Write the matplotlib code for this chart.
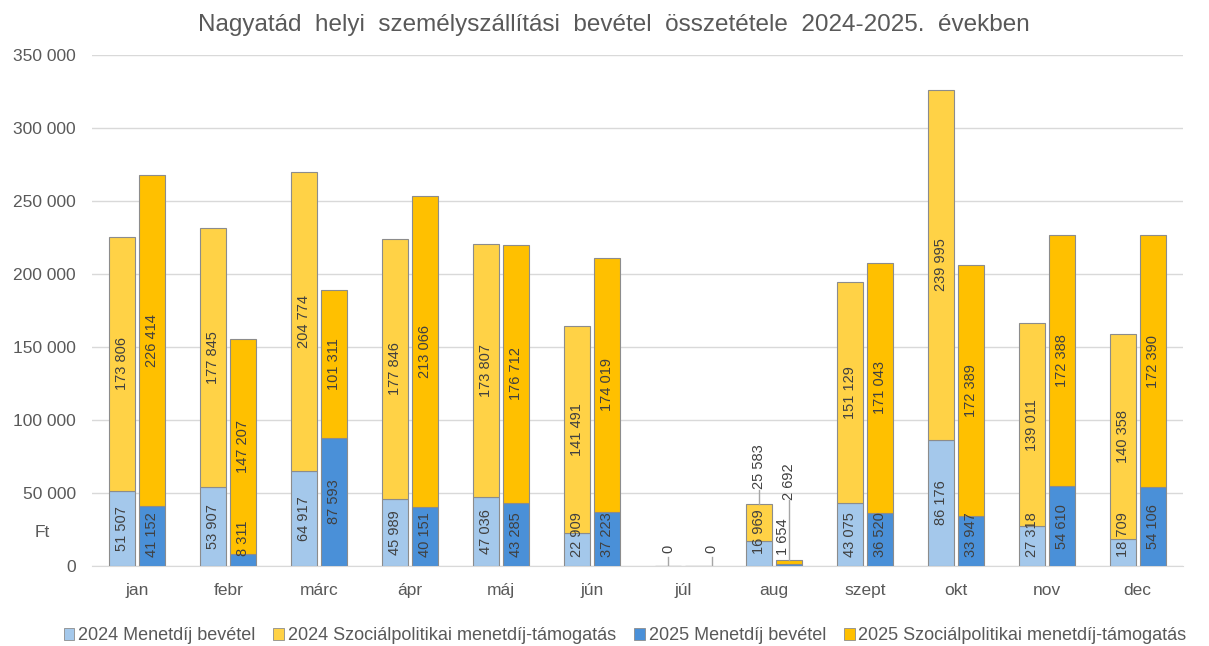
import numpy as np
import matplotlib.pyplot as plt
from matplotlib.patches import Patch

plt.rcParams['font.family'] = ['Liberation Sans', 'DejaVu Sans']

honapok = ["jan", "febr", "márc", "ápr", "máj", "jún", "júl", "aug", "szept", "okt", "nov", "dec"]
menet_2024 = [51507, 53907, 64917, 45989, 47036, 22909, 0, 16969, 43075, 86176, 27318, 18709]
szoc_2024 = [173806, 177845, 204774, 177846, 173807, 141491, 0, 25583, 151129, 239995, 139011, 140358]
menet_2025 = [41152, 8311, 87593, 40151, 43285, 37223, 0, 1654, 36520, 33947, 54610, 54106]
szoc_2025 = [226414, 147207, 101311, 213066, 176712, 174019, 0, 2692, 171043, 172389, 172388, 172390]

sorozat_nevek = ["2024 Menetdíj bevétel", "2024 Szociálpolitikai menetdíj-támogatás",
                 "2025 Menetdíj bevétel", "2025 Szociálpolitikai menetdíj-támogatás"]
cim = "Nagyatád helyi személyszállítási bevétel összetétele 2024-2025. években"
szinek = ["#A4C8EB", "#FFD246", "#4A90D8", "#FFC000"]
szurke = "#595959"

def fmt(v):
    return f"{v:,}".replace(",", " ")

fig = plt.figure(figsize=(12.09, 6.46), dpi=100)
ax = fig.add_axes([92/1209, 1-566/646, 1091/1209, 511/646])
px = 350000 / 511  # adat / pixel

x = np.arange(len(honapok))
w = 0.286
off = 0.165
ec = "#8C8C8C"
ax.bar(x-off, menet_2024, w, color=szinek[0], edgecolor=ec, linewidth=0.8, zorder=3)
ax.bar(x-off, szoc_2024, w, bottom=menet_2024, color=szinek[1], edgecolor=ec, linewidth=0.8, zorder=3)
ax.bar(x+off, menet_2025, w, color=szinek[2], edgecolor=ec, linewidth=0.8, zorder=3)
ax.bar(x+off, szoc_2025, w, bottom=menet_2025, color=szinek[3], edgecolor=ec, linewidth=0.8, zorder=3)

lbl = dict(rotation=90, ha="center", va="center", fontsize=10.5, color="#404040", zorder=5)
lead = dict(color="#A6A6A6", lw=1, zorder=4)
for i in range(len(honapok)):
    for xx, m, s in [(x[i]-off, menet_2024[i], szoc_2024[i]), (x[i]+off, menet_2025[i], szoc_2025[i])]:
        if m + s < 60000:
            continue
        t = fmt(m)
        # ha nem fer el, feljebb tolja (mint az Excel)
        yc = max(m/2, (len(t)*7.6/2 + 9) * px)
        ax.text(xx, yc, t, **lbl)
        ax.text(xx, m + s/2, fmt(s), **lbl)

# kis ertekek (jul, aug) vezetovonallal
i = honapok.index("júl")
for xx in [x[i]-off, x[i]+off+0.15]:
    ax.plot([xx, xx], [0, 9*px], **lead)
    ax.text(xx, 17*px, "0", **lbl)
i = honapok.index("aug")
top24 = menet_2024[i] + szoc_2024[i]
top25 = menet_2025[i] + szoc_2025[i]
ax.plot([x[i]-off, x[i]-off], [top24, 76*px], **lead)
ax.text(x[i]-off, 99.5*px, fmt(szoc_2024[i]), **lbl)
ax.text(x[i]-off, 34*px, fmt(menet_2024[i]), **lbl)
ax.plot([x[i]+off, x[i]+off], [top25, 66*px], **lead)
ax.text(x[i]+off, 84.5*px, fmt(szoc_2025[i]), **lbl)
ax.text(x[i]+off-0.065, 29.5*px, fmt(menet_2025[i]), **lbl)

ax.set_xlim(-0.5, len(honapok)-0.5)
ax.set_ylim(0, 350000)
ax.set_yticks(np.arange(0, 350001, 50000))
ax.set_yticklabels([fmt(v) for v in range(0, 350001, 50000)])
ax.set_xticks(x)
ax.set_xticklabels(honapok)
ax.tick_params(length=0, labelsize=12.5, colors=szurke)
ax.tick_params(axis="y", pad=11.5)
ax.tick_params(axis="x", pad=12)
ax.grid(axis="y", color="#D9D9D9", linewidth=1, zorder=0)
for sp in ["top", "right", "left"]:
    ax.spines[sp].set_visible(False)
ax.spines["bottom"].set_color("#D9D9D9")
ax.text(-0.046, 0.0665, "Ft", transform=ax.transAxes, fontsize=12.5, color=szurke, ha="center", va="center")

fig.text(0.508, 0.962, cim.replace(" ", "  "), ha="center", va="center", fontsize=17.5, color=szurke)

handles = [Patch(facecolor=c, edgecolor=ec, linewidth=0.6) for c in szinek]
fig.legend(handles, sorozat_nevek, loc="center", bbox_to_anchor=(0.517, 0.0155), ncol=4, frameon=False,
           fontsize=13, handlelength=0.6, handleheight=0.65, handletextpad=0.2, columnspacing=1.0,
           labelcolor=szurke, borderpad=0)

fig.savefig("out.png", dpi=100)
